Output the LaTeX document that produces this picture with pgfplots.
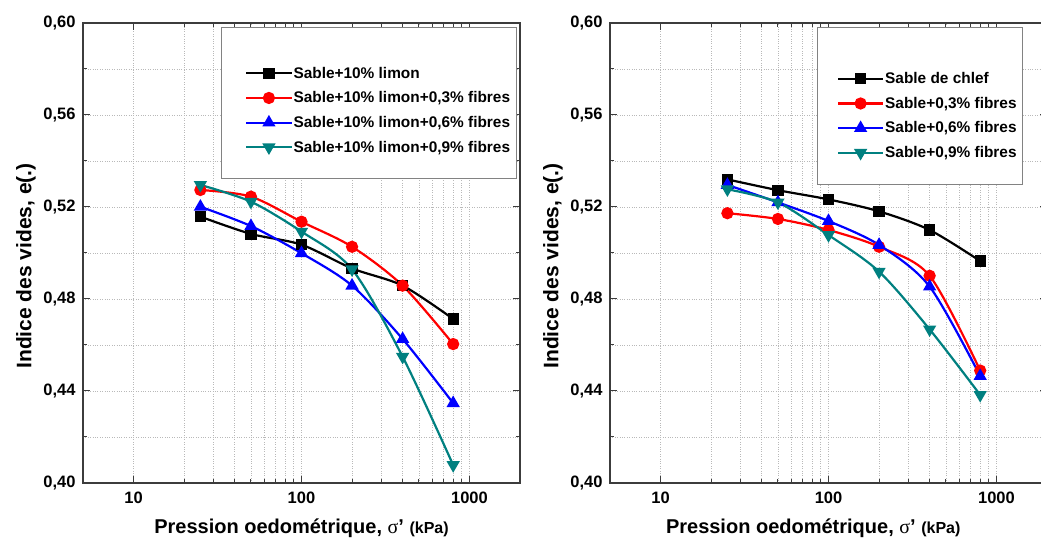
\documentclass[border=0pt]{standalone}
\usepackage{pgfplots}
\pgfplotsset{compat=1.18}
\usepackage{fontspec}
\setmainfont{Liberation Sans}
\newfontfamily\symfont{Liberation Serif}
\definecolor{tealc}{RGB}{0,128,128}
\definecolor{axgray}{RGB}{60,60,60}
\definecolor{gridgray}{RGB}{185,185,185}
\definecolor{boxgray}{RGB}{130,130,130}
\newcommand{\tfont}{\bfseries\fontsize{16.5}{18}\selectfont}
\newcommand{\legfont}{\bfseries\fontsize{15.4}{17}\selectfont}
\newcommand{\xlfont}{\bfseries\fontsize{20}{22}\selectfont}
\newcommand{\ylfont}{\bfseries\fontsize{21}{23}\selectfont}
\pgfkeys{/pgf/number format/.cd, fixed, fixed zerofill, precision=2, use comma, assume math mode=true}
\pgfplotsset{
  legend image code/.code={\draw[mark repeat=2,mark phase=2,#1] plot coordinates {(0pt,0pt) (22.5pt,0pt) (45pt,0pt)};},
  myaxis/.style={
    scale only axis, width=437pt, height=460pt,
    xmin=5, xmax=2000, ymin=0.40, ymax=0.60,
    xtick={10,100,1000}, xticklabels={10,100,1000},
    ytick={0.40,0.44,0.48,0.52,0.56,0.60},
    minor ytick={0.42,0.46,0.50,0.54,0.58},
    yticklabel style={font=\tfont, xshift=-4pt},
    xticklabel style={font=\tfont, yshift=-5pt},
    grid=both,
    major grid style={dotted, gridgray, line width=0.8pt},
    minor grid style={dotted, gridgray, line width=0.8pt},
    tick align=inside,
    major tick length=7pt, minor tick length=4pt,
    every tick/.style={axgray, line width=1pt},
    axis line style={axgray, line width=1.3pt},
    every axis x label/.style={at={(rel axis cs:0.5,0)}, anchor=center, yshift=-45pt, font=\xlfont},
    every axis y label/.style={at={(rel axis cs:0,0.472)}, rotate=90, anchor=center, font=\ylfont},
    legend cell align=left,
    legend style={draw=none, fill=none, anchor=north west, font=\legfont, inner sep=0pt, row sep=10pt, nodes={inner sep=1pt}},
  },
  s1/.style={black, line width=2.2pt, smooth, tension=0.5, mark=square*, mark size=4.5pt, mark options={solid}},
  s2/.style={red, line width=2.2pt, smooth, tension=0.5, mark=*, mark size=5pt},
  s3/.style={blue, line width=2.2pt, smooth, tension=0.5, mark=triangle*, mark size=5.5pt},
  s4/.style={tealc, line width=2.2pt, smooth, tension=0.5, mark=triangle*, mark size=5.5pt, mark options={rotate=180}},
}
\newcommand{\xlab}{Pression oedométrique, {\mdseries\symfont σ}' {\fontsize{16}{18}\selectfont(kPa)}}
\begin{document}
\begin{tikzpicture}
\begin{axis}[xmode=log, myaxis, at={(0pt,0pt)}, anchor=south west,
  xlabel={\xlab},
  ylabel={Indice des vides, e(.)},
  every axis y label/.append style={yshift=57pt},
  legend style={at={(rel axis cs:0.371,0.907)}}]
\draw[boxgray, line width=1pt, fill=white] (rel axis cs:0.316,0.991) rectangle (rel axis cs:0.993,0.661);
\addplot[s1] coordinates {(25,0.5158) (50,0.5083) (100,0.5036) (200,0.4933) (400,0.4858) (800,0.4713)};
\addlegendentry{Sable+10\% limon}
\addplot[s2] coordinates {(25,0.5274) (50,0.5245) (100,0.5136) (200,0.5027) (400,0.4858) (800,0.4604)};
\addlegendentry{Sable+10\% limon+0,3\% fibres}
\addplot[s3] coordinates {(25,0.5201) (50,0.5117) (100,0.4999) (200,0.4858) (400,0.4626) (800,0.4347)};
\addlegendentry{Sable+10\% limon+0,6\% fibres}
\addplot[s4] coordinates {(25,0.5296) (50,0.5223) (100,0.5093) (200,0.4929) (400,0.4549) (800,0.4078)};
\addlegendentry{Sable+10\% limon+0,9\% fibres}
\end{axis}
\begin{axis}[xmode=log, myaxis, at={(527pt,0pt)}, anchor=south west,
  xlabel={\xlab},
  every axis x label/.append style={at={(rel axis cs:0.465,0)}},
  ylabel={Indice des vides, e(.)},
  every axis y label/.append style={yshift=57pt},
  legend style={at={(rel axis cs:0.519,0.895)}}]
\draw[boxgray, line width=1pt, fill=white] (rel axis cs:0.474,0.991) rectangle (rel axis cs:0.943,0.648);
\addplot[s1] coordinates {(25,0.5320) (50,0.5273) (100,0.5233) (200,0.5181) (400,0.5100) (800,0.4965)};
\addlegendentry{Sable de chlef}
\addplot[s2] coordinates {(25,0.5173) (50,0.5148) (100,0.5100) (200,0.5027) (400,0.4901) (800,0.4489)};
\addlegendentry{Sable+0,3\% fibres}
\addplot[s3] coordinates {(25,0.5296) (50,0.5220) (100,0.5139) (200,0.5035) (400,0.4854) (800,0.4465)};
\addlegendentry{Sable+0,6\% fibres}
\addplot[s4] coordinates {(25,0.5277) (50,0.5220) (100,0.5078) (200,0.4919) (400,0.4668) (800,0.4383)};
\addlegendentry{Sable+0,9\% fibres}
\end{axis}
\pgfresetboundingbox
\path[use as bounding box] (-83pt,-60pt) rectangle (958pt,483pt);
\end{tikzpicture}
\end{document}
